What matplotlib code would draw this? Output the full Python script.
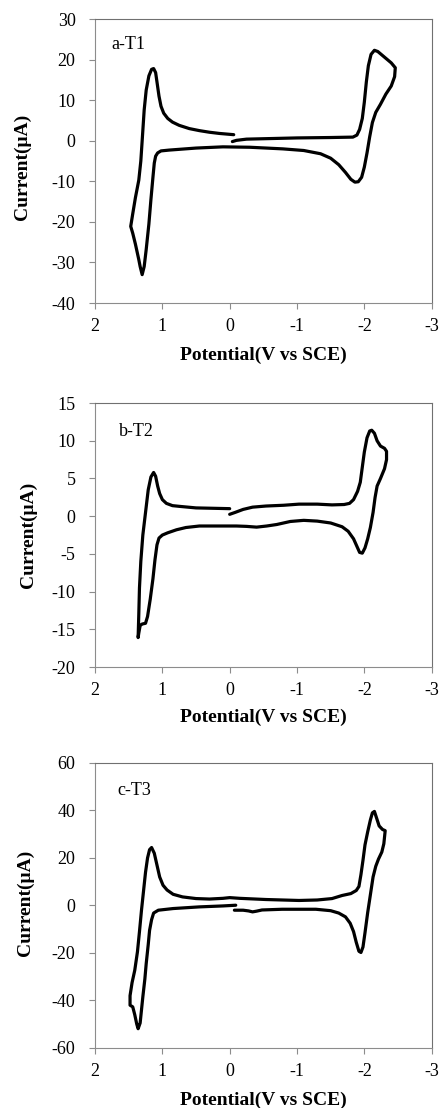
import matplotlib
matplotlib.use('Agg')
import matplotlib.pyplot as plt

plt.rcParams['font.family'] = ['Liberation Serif', 'DejaVu Serif']
plt.rcParams['axes.unicode_minus'] = False

# T1 cyclic voltammogram (potential in V vs SCE, current in uA)
t1_potential = [-0.04, -0.10, -0.25, -0.50, -1.00, -1.50, -1.83, -1.89, -1.93,
                -1.97, -2.00, -2.03, -2.06, -2.10, -2.15, -2.20, -2.30, -2.40,
                -2.46, -2.45, -2.40, -2.32, -2.24, -2.17, -2.12, -2.08, -2.04,
                -2.00, -1.96, -1.91, -1.86, -1.80, -1.72, -1.62, -1.50, -1.35,
                -1.10, -0.79, -0.30, 0.10, 0.50, 0.90, 1.02, 1.07, 1.10, 1.12,
                1.14, 1.17, 1.20, 1.24, 1.27, 1.30, 1.33, 1.35, 1.40, 1.44,
                1.47, 1.44, 1.40, 1.35, 1.32, 1.30, 1.27, 1.24, 1.20, 1.16,
                1.13, 1.10, 1.08, 1.05, 1.02, 0.98, 0.92, 0.85, 0.75, 0.60,
                0.45, 0.30, 0.15, -0.06]
t1_current = [-0.2, 0.1, 0.4, 0.5, 0.7, 0.8, 0.9, 1.4, 2.8, 5.5, 9.5, 14.5,
              18.5, 21.3, 22.3, 22.0, 20.6, 19.2, 18.0, 15.8, 13.5, 11.5, 9.0,
              7.0, 4.5, 1.0, -3.0, -6.5, -9.0, -10.1, -10.2, -9.5, -7.8, -5.9,
              -4.3, -3.2, -2.4, -2.0, -1.6, -1.5, -1.8, -2.3, -2.5, -3.0, -3.8,
              -5.5, -9.0, -14.5, -20.5, -26.8, -31.0, -33.0, -31.0, -29.3,
              -25.5, -22.8, -21.1, -18.0, -14.0, -9.7, -5.0, 0.0, 7.6, 12.5,
              16.0, 17.6, 17.8, 16.8, 14.5, 11.0, 8.5, 6.8, 5.5, 4.6, 3.8, 3.0,
              2.5, 2.1, 1.8, 1.5]

# T2 cyclic voltammogram
t2_potential = [0.00, -0.08, -0.20, -0.34, -0.54, -0.80, -1.03, -1.30, -1.52,
                -1.70, -1.78, -1.84, -1.90, -1.94, -1.97, -2.00, -2.04, -2.08,
                -2.11, -2.15, -2.19, -2.24, -2.30, -2.33, -2.33, -2.30, -2.24,
                -2.19, -2.16, -2.13, -2.09, -2.05, -2.01, -1.97, -1.93, -1.89,
                -1.84, -1.76, -1.67, -1.50, -1.30, -1.10, -0.90, -0.70, -0.55,
                -0.40, -0.25, -0.10, 0.20, 0.45, 0.65, 0.79, 0.92, 1.00, 1.05,
                1.08, 1.11, 1.14, 1.18, 1.22, 1.25, 1.30, 1.33, 1.35, 1.36,
                1.35, 1.34, 1.32, 1.29, 1.25, 1.21, 1.17, 1.13, 1.10, 1.07,
                1.04, 1.00, 0.94, 0.85, 0.74, 0.50, 0.25, 0.00]
t2_current = [0.25, 0.5, 0.9, 1.2, 1.35, 1.45, 1.6, 1.6, 1.5, 1.55, 1.7, 2.2,
              3.3, 4.5, 6.5, 8.5, 10.4, 11.3, 11.4, 11.0, 10.0, 9.3, 9.0, 8.6,
              7.5, 6.3, 5.0, 4.0, 2.5, 0.5, -1.5, -3.0, -4.2, -4.9, -4.8, -4.0,
              -3.0, -2.0, -1.4, -0.9, -0.65, -0.55, -0.7, -1.1, -1.3, -1.45,
              -1.35, -1.3, -1.3, -1.3, -1.5, -1.8, -2.2, -2.5, -2.9, -3.8, -5.8,
              -8.3, -11.0, -13.3, -14.2, -14.3, -14.5, -15.5, -16.1, -13.0,
              -9.5, -6.0, -2.5, 0.5, 3.5, 5.2, 5.8, 5.3, 4.0, 3.0, 2.2, 1.7,
              1.4, 1.3, 1.1, 1.05, 1.0]

# T3 cyclic voltammogram
t3_potential = [-0.07, -0.20, -0.28, -0.34, -0.40, -0.48, -0.78, -1.28, -1.50,
                -1.62, -1.72, -1.79, -1.84, -1.88, -1.92, -1.95, -1.98, -2.01,
                -2.05, -2.09, -2.13, -2.17, -2.21, -2.26, -2.29, -2.31, -2.27,
                -2.22, -2.18, -2.15, -2.12, -2.09, -2.05, -2.01, -1.98, -1.95,
                -1.92, -1.88, -1.80, -1.67, -1.52, -1.30, -1.03, -0.54, -0.15,
                0.00, 0.10, 0.30, 0.50, 0.70, 0.84, 0.93, 0.99, 1.04, 1.08,
                1.12, 1.16, 1.19, 1.22, 1.25, 1.28, 1.31, 1.34, 1.37, 1.41,
                1.45, 1.48, 1.48, 1.44, 1.41, 1.38, 1.36, 1.33, 1.31, 1.29,
                1.26, 1.24, 1.21, 1.19, 1.16, 1.13, 1.06, 0.84, 0.45, 0.10,
                -0.09]
t3_current = [-2.0, -2.0, -2.3, -2.7, -2.4, -1.9, -1.6, -1.6, -2.2, -3.2, -4.8,
              -7.5, -11.0, -15.5, -19.3, -19.8, -17.5, -11.5, -3.0, 4.5, 12.0,
              16.5, 19.5, 22.5, 26.0, 31.5, 32.0, 33.5, 37.0, 39.6, 39.0, 36.0,
              31.0, 25.5, 19.0, 13.0, 8.0, 6.3, 5.0, 4.2, 2.9, 2.3, 2.1, 2.5,
              3.0, 3.3, 3.0, 2.7, 2.9, 3.6, 4.7, 6.5, 8.5, 12.0, 17.0, 22.0,
              24.4, 23.5, 20.0, 14.0, 6.0, -2.0, -11.0, -19.5, -27.3, -32.5,
              -38.0, -42.0, -42.7, -46.0, -50.0, -51.9, -49.5, -44.0, -38.5,
              -31.0, -24.5, -16.5, -10.5, -6.0, -3.2, -2.0, -1.3, -0.6, -0.2,
              0.1]

panel_labels = ['a-T1', 'b-T2', 'c-T3']
x_ticks = [2, 1, 0, -1, -2, -3]
y_ranges = [(-40, 30, 10), (-20, 15, 5), (-60, 60, 20)]

curves = [(t1_potential, t1_current), (t2_potential, t2_current),
          (t3_potential, t3_current)]

fig = plt.figure(figsize=(4.4, 11.08), dpi=100)

# axes boxes in figure fractions [left, bottom, width, height]
boxes = [[0.216, 0.7265, 0.765, 0.2563],
         [0.216, 0.398, 0.765, 0.2382],
         [0.216, 0.0542, 0.765, 0.2572]]
# panel tag positions and axis-label offsets (axes fractions)
tag_pos = [(0.049, 0.912), (0.071, 0.892), (0.065, 0.902)]
ylabel_pos = [(-0.217, 0.48), (-0.199, 0.5), (-0.208, 0.51)]
xlabel_y = [-0.183, -0.192, -0.183]

for i, box in enumerate(boxes):
  xs, ys = curves[i]
  ymin, ymax, ystep = y_ranges[i]
  ax = fig.add_axes(box)
  ax.plot(xs, ys, color='black', linewidth=2.3, solid_joinstyle='round',
          solid_capstyle='round')
  ax.set_xlim(2, -3)
  ax.set_ylim(ymin, ymax)
  ax.set_xticks(x_ticks)
  ax.set_yticks(list(range(ymin, ymax + 1, ystep)))
  ax.tick_params(direction='out', length=4, width=0.8, color='#8c8c8c',
                 labelsize=13)
  ax.tick_params(axis='x', pad=7)
  ax.tick_params(axis='y', pad=10)
  for side in ['left', 'bottom']:
    ax.spines[side].set_color('#8c8c8c')
  for side in ['top', 'right']:
    ax.spines[side].set_color('#707070')
  ax.text(tag_pos[i][0], tag_pos[i][1], panel_labels[i],
          transform=ax.transAxes, fontsize=13, ha='left', va='center')
  ax.set_ylabel('Current(μA)', fontsize=14, fontweight='bold')
  ax.set_xlabel('Potential(V vs SCE)', fontsize=14, fontweight='bold')
  ax.yaxis.set_label_coords(*ylabel_pos[i])
  ax.xaxis.set_label_coords(0.5, xlabel_y[i])
  ax.xaxis.label.set_va('center')
  ax.yaxis.label.set_va('center')

fig.savefig('out.png', dpi=100)
